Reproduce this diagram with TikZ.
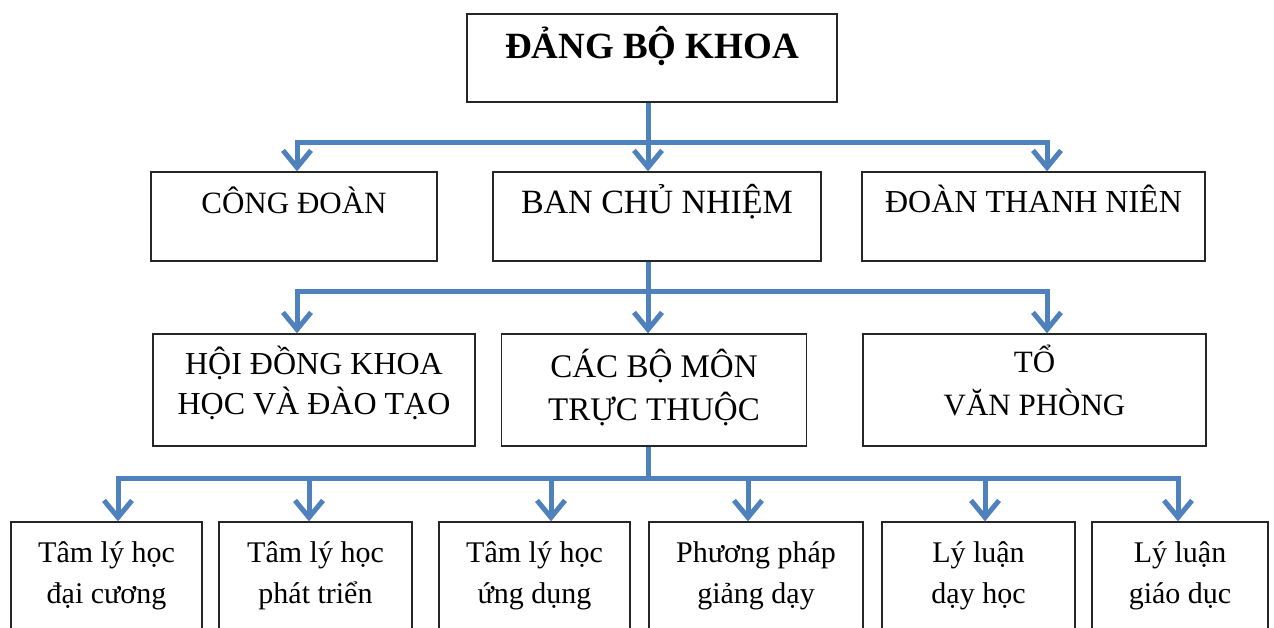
\documentclass[tikz,border=0pt]{standalone}
\usepackage{fontspec}
\setmainfont{Liberation Serif}
\usetikzlibrary{arrows.meta}
\definecolor{linkblue}{RGB}{79,129,189}

\begin{document}
\begin{tikzpicture}[x=1pt,y=-1pt,
  box/.style={draw=black!85,line width=1.3pt,rectangle,inner sep=0pt,align=center,font=\fontsize{31}{39}\selectfont},
  small/.style={box,text height=81pt,text depth=29pt,font=\fontsize{30}{41}\selectfont},
  bar/.style={draw=linkblue,line width=5pt},
  link/.style={bar,-{Straight Barb[length=17pt,width=28pt]}}]
\useasboundingbox (0,0) rectangle (1274,628);
\node at (652,58) [box,minimum width=370pt,text height=45pt,text depth=43pt,font=\fontsize{37}{40}\selectfont\bfseries] (dang) {ĐẢNG BỘ KHOA};
\node at (294,216.5) [box,minimum width=286pt,text height=42pt,text depth=47pt] (cong) {CÔNG ĐOÀN};
\node at (657,216.5) [box,minimum width=328pt,text height=42pt,text depth=47pt,font=\fontsize{34}{40}\selectfont] (ban) {BAN CHỦ NHIỆM};
\node at (1033.5,216.5) [box,minimum width=343pt,text height=41pt,text depth=48pt,font=\fontsize{32}{40}\selectfont] (doan) {ĐOÀN THANH NIÊN};
\node at (314,390) [box,minimum width=322pt,text height=80pt,text depth=32pt,font=\fontsize{32}{40}\selectfont] (hoidong) {HỘI ĐỒNG KHOA\\HỌC VÀ ĐÀO TẠO};
\node at (654,390) [box,minimum width=305pt,text height=86pt,text depth=26pt,font=\fontsize{33}{43}\selectfont] (bomon) {CÁC BỘ MÔN\\TRỰC THUỘC};
\node at (1034.5,390) [box,minimum width=343pt,text height=81pt,text depth=31pt,font=\fontsize{31}{43}\selectfont] (to) {TỔ\\VĂN PHÒNG};
% bottom row runs off the page
\node at (106.5,577) [small,minimum width=191pt] (dc) {Tâm lý học\\đại cương};
\node at (315.5,577) [small,minimum width=193pt] (pt) {Tâm lý học\\phát triển};
\node at (534.5,577) [small,minimum width=191pt] (ud) {Tâm lý học\\ứng dụng};
\node at (756,577) [small,minimum width=214pt] (pp) {Phương pháp\\giảng dạy};
\node at (978.5,577) [small,minimum width=193pt] (dh) {Lý luận\\dạy học};
\node at (1180,577) [small,minimum width=176pt] (gd) {Lý luận\\giáo dục};

\coordinate (bus1) at (648,143);
\coordinate (bus2) at (648,292);
\coordinate (bus3) at (648,478);
\draw[link] (dang.south -| bus1) -- (ban.north -| bus1);
\draw[link] (bus1) -| ([xshift=3pt]cong.north);
\draw[link] (bus1) -| ([xshift=13.5pt]doan.north);
\draw[link] (ban.south -| bus2) -- (bomon.north -| bus2);
\draw[link] (bus2) -| ([xshift=-17pt]hoidong.north);
\draw[link] (bus2) -| ([xshift=12.5pt]to.north);
\draw[bar] (bomon.south -| bus3) -- (bus3);
\foreach \n/\dx in {dc/11.5,pt/-6.5,ud/16.5,pp/-8,dh/6.5,gd/-2}
  \draw[link] (bus3) -| ([xshift=\dx pt]\n.north);
\end{tikzpicture}
\end{document}
